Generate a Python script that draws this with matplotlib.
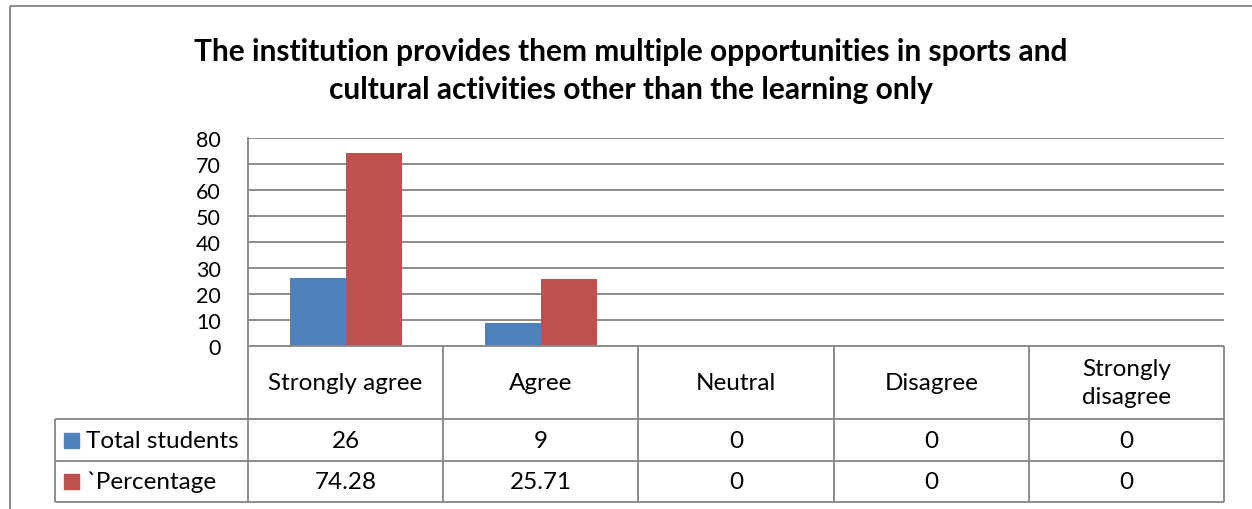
import matplotlib
matplotlib.use("Agg")
import matplotlib.pyplot as plt
from matplotlib.lines import Line2D
from matplotlib.patches import Rectangle

plt.rcParams['font.family'] = ['Lato', 'DejaVu Sans']

# chart data
title = ("The institution provides them multiple opportunities in sports and\n"
         "cultural activities other than the learning only")
categories = ['Strongly agree', 'Agree', 'Neutral', 'Disagree', 'Strongly\ndisagree']
series_names = ['Total students', '`Percentage']
total_students = [26, 9, 0, 0, 0]
percentage = [74.28, 25.71, 0, 0, 0]
series_colors = ['#4F81BD', '#C0504D']
yticks = [0, 10, 20, 30, 40, 50, 60, 70, 80]

W, H = 1252, 510
fig = plt.figure(figsize=(W / 100, H / 100), dpi=100)
fig.patch.set_facecolor('white')
GRAY = '#8c8c8c'
FS = 17.5


def fx(px):
    return px / W


def fy(py):
    return 1 - py / H


def hline(y, x0, x1, lw=1.4):
    fig.add_artist(Line2D([fx(x0), fx(x1)], [fy(y), fy(y)], color=GRAY, lw=lw,
                          transform=fig.transFigure, solid_capstyle='butt'))


def vline(x, y0, y1, lw=1.4):
    fig.add_artist(Line2D([fx(x), fx(x)], [fy(y0), fy(y1)], color=GRAY, lw=lw,
                          transform=fig.transFigure, solid_capstyle='butt'))


# plot area
left, right, top, bottom = 248, 1224, 139, 347
ax = fig.add_axes([fx(left), fy(bottom), fx(right) - fx(left), fy(top) - fy(bottom)])
n = len(categories)
bw = 0.287
xs = list(range(n))
ax.bar([x - bw / 2 for x in xs], total_students, bw, color=series_colors[0], zorder=3)
ax.bar([x + bw / 2 for x in xs], percentage, bw, color=series_colors[1], zorder=3)
ax.set_xlim(-0.5, n - 0.5)
ax.set_ylim(0, 80)
ax.set_yticks(yticks)
ax.set_yticklabels([str(t) for t in yticks], fontsize=15.5)
ax.tick_params(axis='y', length=0, pad=19.5)
ax.set_xticks([])
ax.yaxis.grid(True, color=GRAY, lw=1.4)
ax.set_axisbelow(True)
for s in ['top', 'right', 'bottom']:
    ax.spines[s].set_visible(False)
ax.spines['left'].set_color(GRAY)
ax.spines['left'].set_linewidth(1.4)

# title
fig.text(fx(631), fy(71), title, ha='center', va='center', fontsize=21.5,
         fontweight='bold', linespacing=1.4)

# data table
col_w = (right - left) / n
row_head = (347, 420)
row1 = (420, 462)
row2 = (462, 503)
leg_left = 55

for i in range(n + 1):
    vline(left + i * col_w, 347, 503)
vline(leg_left, 420, 503)
hline(347, left, right)
for y in (420, 462, 503):
    hline(y, leg_left, right)

for i, cat in enumerate(categories):
    cx = left + (i + 0.5) * col_w
    fig.text(fx(cx), fy(sum(row_head) / 2), cat, ha='center', va='center',
             fontsize=FS, linespacing=1.4)
    fig.text(fx(cx), fy(sum(row1) / 2), f'{total_students[i]:g}', ha='center',
             va='center', fontsize=FS)
    fig.text(fx(cx), fy(sum(row2) / 2), f'{percentage[i]:g}', ha='center',
             va='center', fontsize=FS)

for (r0, r1), name, c in zip((row1, row2), series_names, series_colors):
    yc = (r0 + r1) / 2
    fig.add_artist(Rectangle((fx(64), fy(yc + 7.5)), fx(15), 15 / H, color=c,
                             transform=fig.transFigure))
    fig.text(fx(86), fy(yc), name, ha='left', va='center', fontsize=FS)

# outer chart frame
hline(7, 10, W)
vline(10, 7, H)

fig.savefig('out.png', dpi=100)
